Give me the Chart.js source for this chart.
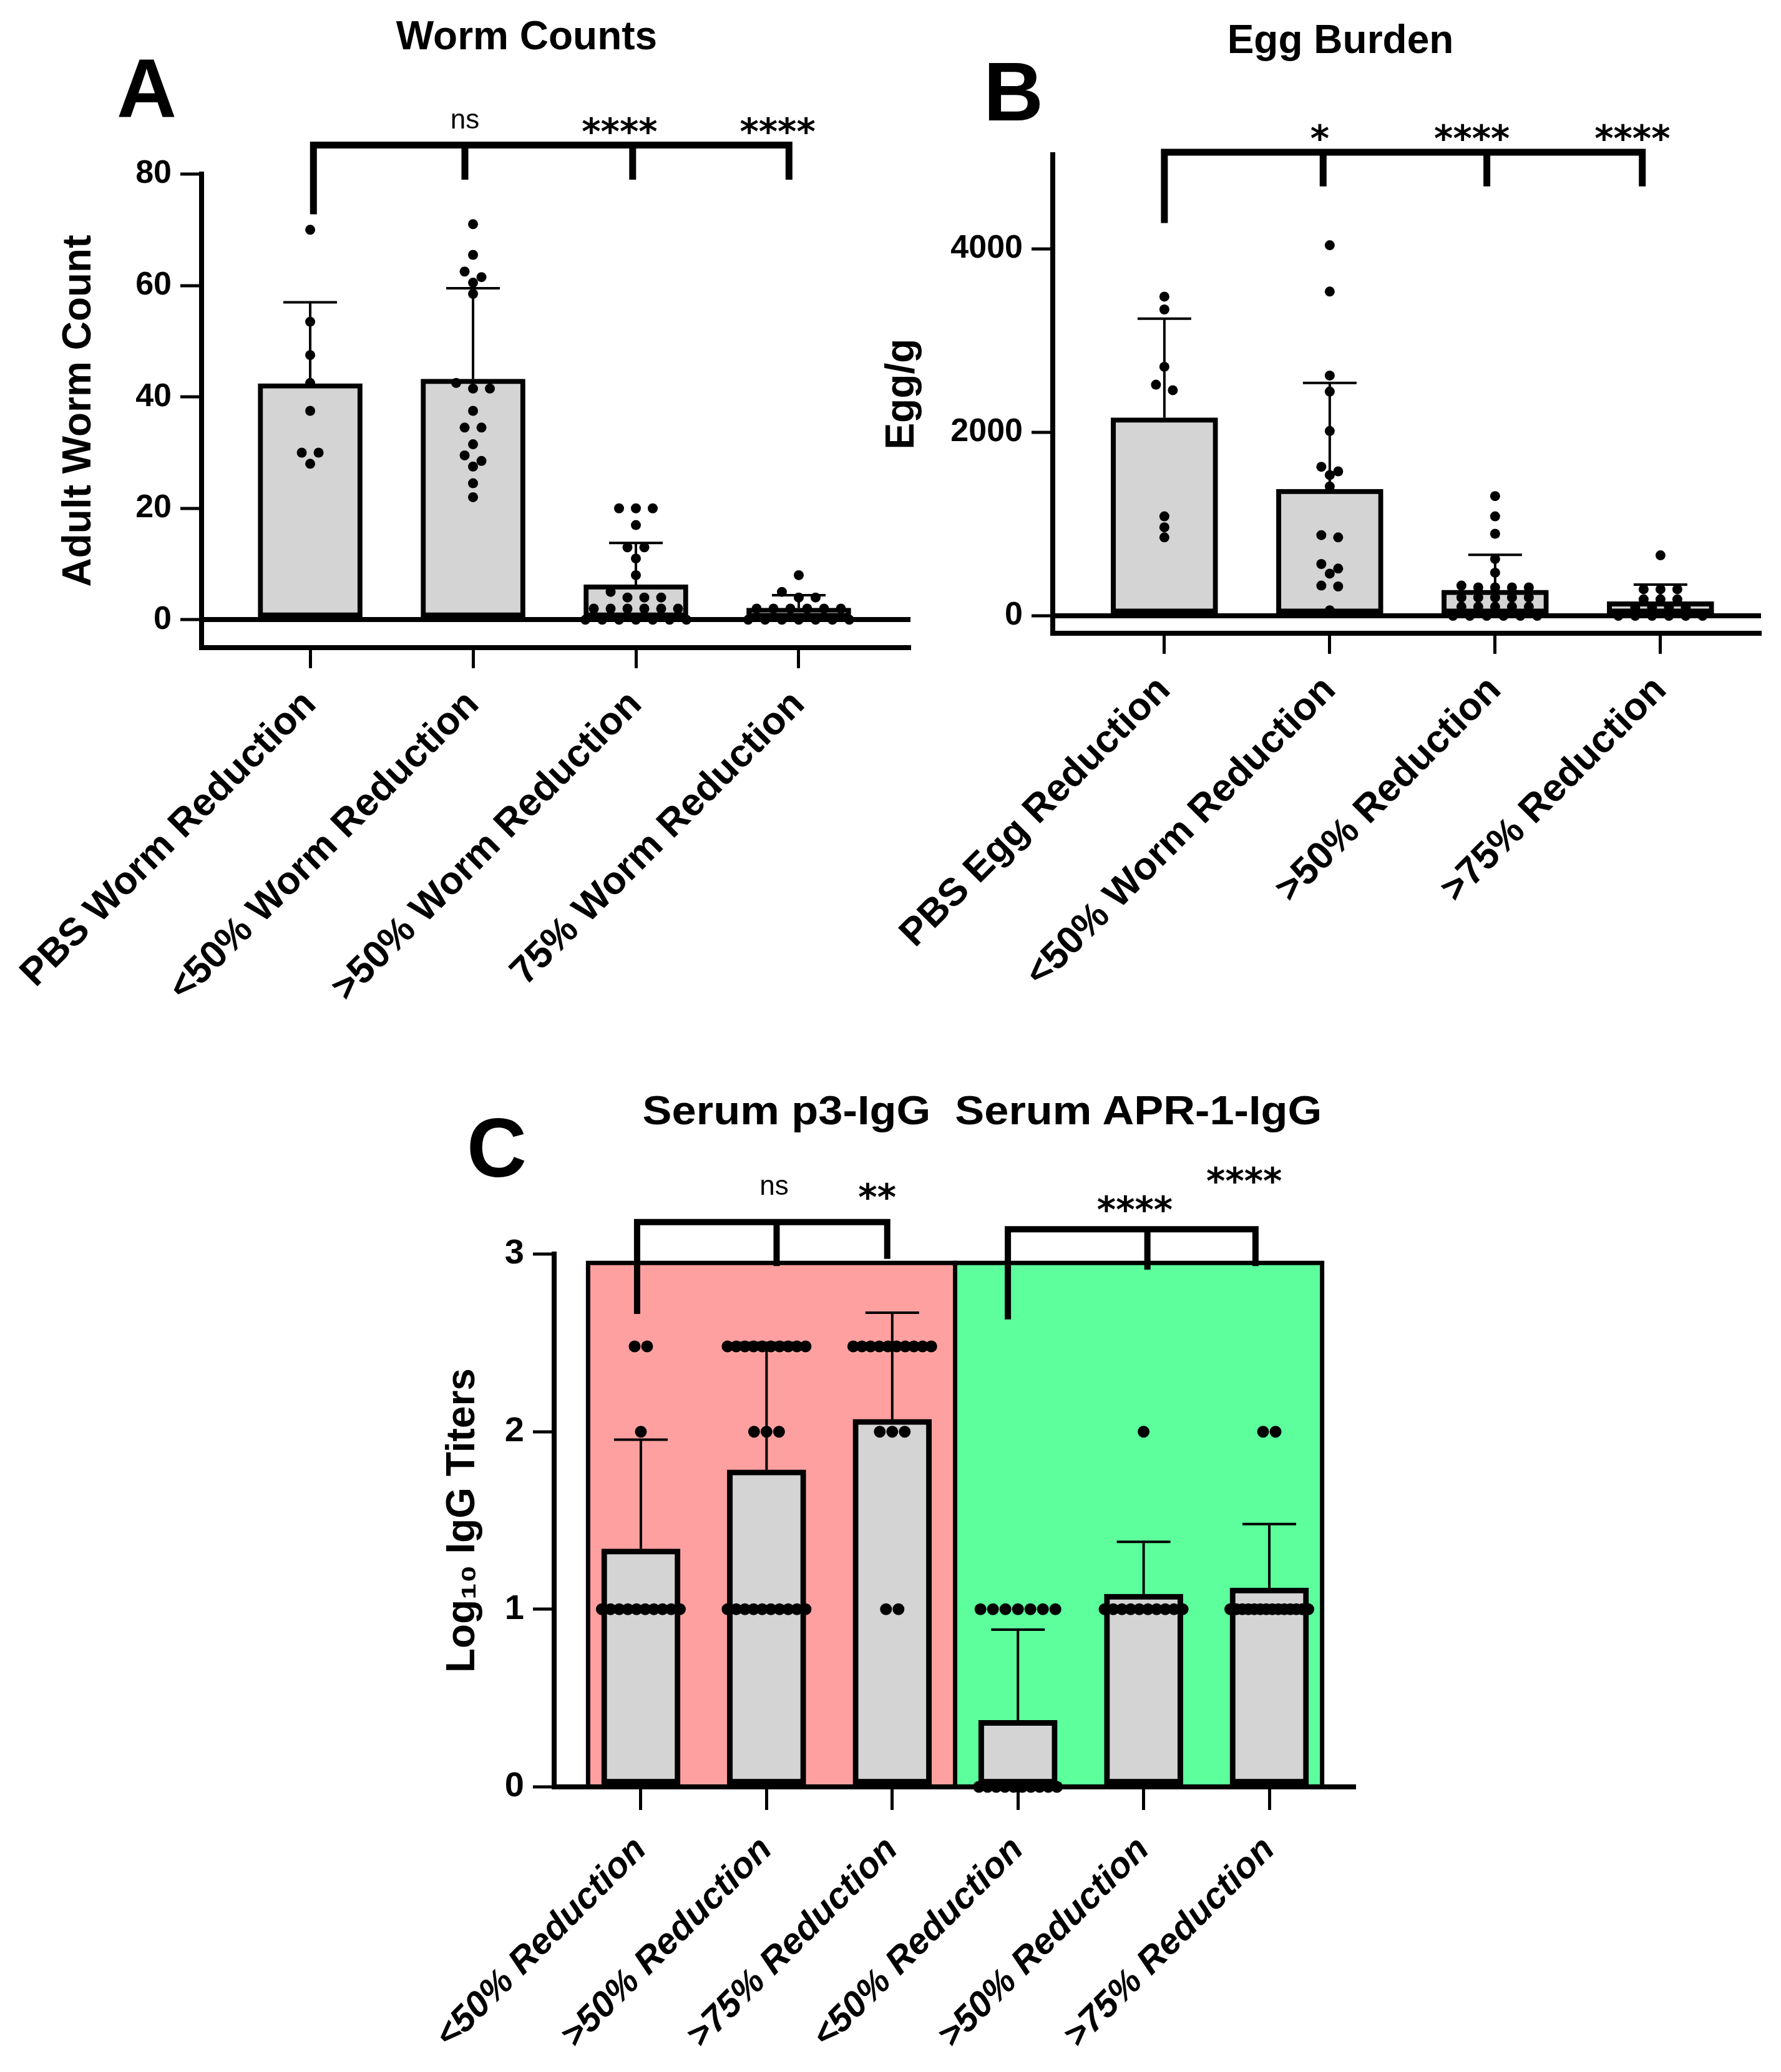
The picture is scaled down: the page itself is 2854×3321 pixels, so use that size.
<!DOCTYPE html>
<html>
<head>
<meta charset="utf-8">
<script src="https://cdn.jsdelivr.net/npm/chart.js@4.4.1/dist/chart.umd.min.js"></script>
<style>
  body { margin: 0; background: #fff; width: 2854px; height: 3321px; position: relative; overflow: hidden;
         font-family: "Liberation Sans", Arial, sans-serif; }
  canvas { position: absolute; }
  .t { position: absolute; transform: translate(-50%, -50%); font-weight: bold; white-space: nowrap;
       line-height: 1; color: #000; }
</style>
</head>
<body>
<canvas id="chartA" width="1480" height="1700" style="left:0;top:0;width:1480px;height:1700px"></canvas>
<canvas id="chartB" width="1474" height="1700" style="left:1380px;top:0;width:1474px;height:1700px"></canvas>
<canvas id="chartC" width="1650" height="1621" style="left:600px;top:1700px;width:1650px;height:1621px"></canvas>

<div class="t" style="left:235px;top:142px;font-size:133px">A</div>
<div class="t" style="left:844px;top:57px;font-size:64px">Worm Counts</div>
<div class="t" style="left:1624px;top:147px;font-size:133px">B</div>
<div class="t" style="left:2148px;top:63px;font-size:64px">Egg Burden</div>
<div class="t" style="left:796px;top:1840px;font-size:133px">C</div>
<div class="t" style="left:1574px;top:1780px;font-size:64px;transform:translate(-50%,-50%) scaleX(1.1)">Serum p3-IgG&nbsp; Serum APR-1-IgG</div>

<script>
// Panel A - worm counts
const catsA = ['PBS Worm Reduction', '<50% Worm Reduction', '>50% Worm Reduction', '75% Worm Reduction'];
const meanA = [42.4, 43.2, 6.3, 2.1];
const sdA = [14.6, 16.3, 7.5, 2.3];
const dotsA = [
  [70, 53.5, 47.5, 42.5, 37.5, 30, 30, 28],
  [71, 65.5, 62.5, 61.5, 60.5, 58.5, 42.5, 41.5, 41.5, 37.5, 34.5, 34.5, 31.5, 29.5, 28.5, 27.5, 24.5, 22],
  [20, 20, 20, 17, 13, 13, 11, 8, 5, 4, 4, 4, 2, 2, 2, 2, 2, 2, 0, 0, 0, 0, 0, 0, 0],
  [8, 5, 4, 4, 2, 2, 2, 2, 2, 2, 0, 0, 0, 0, 0, 0, 0]
];
const yTicksA = [0, 20, 40, 60, 80];

// Panel B - egg burden
const catsB = ['PBS Egg Reduction', '<50% Worm Reduction', '>50% Reduction', '>75% Reduction'];
const meanB = [2160, 1380, 280, 155];
const sdB = [1080, 1160, 385, 185];
const dotsB = [
  [3480, 3340, 2715, 2520, 2460, 1085, 965, 855],
  [4040, 3535, 2620, 2445, 2015, 1625, 1575, 1535, 1410, 880, 855, 565, 515, 460, 330, 320, 60],
  [1305, 1085, 895, 620, 470, 330, 310, 310, 310, 310, 200, 200, 200, 200, 200, 100, 100, 100, 100, 100, 0, 0, 0, 0, 0, 0],
  [660, 290, 290, 290, 180, 180, 180, 90, 90, 90, 90, 0, 0, 0, 0, 0, 0]
];
const yTicksB = [0, 2000, 4000];

// Panel C - serum IgG titers (p3 groups then APR-1 groups)
const catsC = ['<50% Reduction', '>50% Reduction', '>75% Reduction', '<50% Reduction', '>50% Reduction', '>75% Reduction'];
const meanC = [1.34, 1.785, 2.07, 0.375, 1.085, 1.12];
const sdC = [0.615, 0.715, 0.6, 0.51, 0.295, 0.36];
const rep = (v, n) => Array(n).fill(v);
const dotsC = [
  [...rep(2.48, 2), 2, ...rep(1, 10)],
  [...rep(2.48, 10), ...rep(2, 3), ...rep(1, 10)],
  [...rep(2.48, 10), ...rep(2, 3), ...rep(1, 2)],
  [...rep(1, 7), ...rep(0, 10)],
  [2, ...rep(1, 10)],
  [2, 2, ...rep(1, 14)]
];
const yTicksC = [0, 1, 2, 3];

const FONT = "'Liberation Sans', Arial, sans-serif";

// spread dots of similar value side by side, centred on the group
function swarm(chart, groups, spacing, maxSpread, bin) {
  const xs = chart.scales.x, ys = chart.scales.y;
  const pxX = xs.getPixelForValue(1) - xs.getPixelForValue(0);
  const pxY = Math.abs(ys.getPixelForValue(1) - ys.getPixelForValue(0));
  const pts = [];
  groups.forEach((vals, g) => {
    const s = vals.slice().sort((a, b) => b - a);
    let i = 0;
    while (i < s.length) {
      let j = i;
      while (j < s.length && (s[i] - s[j]) * pxY < bin) j++;
      const n = j - i;
      const step = n > 1 ? Math.min(spacing, maxSpread / (n - 1)) : 0;
      for (let k = 0; k < n; k++) {
        pts.push({ x: g + (k - (n - 1) / 2) * step / pxX, y: s[i + k] });
      }
      i = j;
    }
  });
  return pts;
}

function errorBars(means, sds, cap, width) {
  return {
    id: 'errorBars',
    afterDatasetDraw(chart, args) {
      if (args.meta.type !== 'bar') return;
      const ctx = chart.ctx, xs = chart.scales.x, ys = chart.scales.y;
      ctx.save();
      ctx.strokeStyle = '#000';
      ctx.lineWidth = width;
      means.forEach((m, i) => {
        const x = xs.getPixelForValue(i);
        const y0 = ys.getPixelForValue(m), y1 = ys.getPixelForValue(m + sds[i]);
        ctx.beginPath();
        ctx.moveTo(x, y0); ctx.lineTo(x, y1);
        ctx.moveTo(x - cap / 2, y1); ctx.lineTo(x + cap / 2, y1);
        ctx.stroke();
      });
      ctx.restore();
    }
  };
}

// significance brackets and stars
function brackets(list, labels, lw) {
  return {
    id: 'brackets',
    afterDraw(chart) {
      const ctx = chart.ctx, xs = chart.scales.x, ys = chart.scales.y;
      ctx.save();
      ctx.strokeStyle = '#000';
      ctx.lineWidth = lw;
      ctx.lineCap = 'square';
      list.forEach(b => {
        const y = ys.getPixelForValue(b.y);
        const xa = xs.getPixelForValue(b.drops[0][0]), xb = xs.getPixelForValue(b.drops[b.drops.length - 1][0]);
        ctx.beginPath();
        ctx.moveTo(xa, y); ctx.lineTo(xb, y);
        b.drops.forEach(d => {
          const x = xs.getPixelForValue(d[0]);
          ctx.moveTo(x, y); ctx.lineTo(x, ys.getPixelForValue(d[1]));
        });
        ctx.stroke();
      });
      ctx.fillStyle = '#000';
      ctx.textAlign = 'center';
      ctx.textBaseline = 'alphabetic';
      labels.forEach(l => {
        const x = xs.getPixelForValue(l.x), y = ys.getPixelForValue(l.y);
        if (l.t === 'ns') {
          ctx.font = '44px ' + FONT;
          ctx.fillText(l.t, x, y + 12);
        } else {
          ctx.font = 'bold 58px "DejaVu Sans", ' + FONT;
          ctx.fillText(l.t, x, y + 34);
        }
      });
      ctx.restore();
    }
  };
}

const shading = {
  id: 'shading',
  beforeDraw(chart) {
    const ctx = chart.ctx, xs = chart.scales.x, ys = chart.scales.y;
    const top = ys.getPixelForValue(2.95), bottom = ys.getPixelForValue(0);
    const edges = [-0.42, 2.5, 5.42].map(v => xs.getPixelForValue(v));
    ctx.save();
    ctx.fillStyle = '#ffa0a0';
    ctx.fillRect(edges[0], top, edges[1] - edges[0], bottom - top);
    ctx.fillStyle = '#5cff9c';
    ctx.fillRect(edges[1], top, edges[2] - edges[1], bottom - top);
    ctx.strokeStyle = '#000';
    ctx.lineWidth = 7;
    ctx.strokeRect(edges[0], top, edges[1] - edges[0], bottom - top);
    ctx.strokeRect(edges[1], top, edges[2] - edges[1], bottom - top);
    ctx.restore();
  }
};

function makeChart(id, cfg) {
  const canvas = document.getElementById(id);
  const area = cfg.area; // chart area inside the canvas
  const chart = new Chart(canvas, {
    type: 'bar',
    data: {
      datasets: [
        {
          type: 'bar',
          data: cfg.means.map((m, i) => ({ x: i, y: m })),
          backgroundColor: '#d4d4d4',
          borderColor: '#000',
          borderWidth: cfg.barBorder,
          borderSkipped: false,
          barThickness: cfg.barWidth,
          order: 2
        },
        {
          type: 'scatter',
          data: [],
          pointRadius: cfg.dotR,
          pointBackgroundColor: '#000',
          pointBorderWidth: 0,
          clip: false,
          order: 1
        }
      ]
    },
    options: {
      responsive: false,
      devicePixelRatio: 1,
      animation: false,
      layout: { padding: { top: area.top, right: canvas.width - area.right, left: 0, bottom: 0 } },
      plugins: { legend: { display: false }, tooltip: { enabled: false } },
      scales: {
        x: {
          type: 'linear',
          offset: false,
          min: cfg.xMin, max: cfg.xMax,
          afterBuildTicks: s => { s.ticks = cfg.cats.map((_, i) => ({ value: i })); },
          afterFit: s => { s.height = canvas.height - area.bottom; s.paddingLeft = 0; s.paddingRight = 0; },
          ticks: {
            autoSkip: false, minRotation: 45, maxRotation: 45, padding: cfg.labelPad,
            color: '#000',
            font: { family: FONT, weight: 'bold', size: cfg.labelSize, style: cfg.labelStyle || 'normal' },
            callback: v => cfg.cats[v]
          },
          grid: { offset: false, drawOnChartArea: false, drawTicks: true, tickLength: cfg.xTickLen, tickWidth: 5, tickColor: '#000' },
          border: { display: true, color: '#000', width: 8 }
        },
        y: {
          min: cfg.yMin, max: cfg.yMax,
          afterBuildTicks: s => { s.ticks = cfg.yTicks.map(v => ({ value: v })); },
          afterFit: s => { s.width = area.left; s.paddingTop = 0; s.paddingBottom = 0; },
          ticks: { color: '#000', padding: 14, font: { family: FONT, weight: 'bold', size: cfg.tickSize },
                   callback: v => String(v) },
          grid: {
            drawOnChartArea: cfg.zeroLine,
            color: c => (c.tick && c.tick.value === 0) ? '#000' : 'rgba(0,0,0,0)',
            lineWidth: 8,
            tickLength: 34, tickWidth: 5, tickColor: '#000'
          },
          border: { display: true, color: '#000', width: 8 },
          title: {
            display: true, text: cfg.yTitle, color: '#000',
            font: { family: FONT, weight: 'bold', size: 64 },
            padding: { top: cfg.titlePad, bottom: 0 }
          }
        }
      }
    },
    plugins: cfg.plugins
  });
  chart.data.datasets[1].data = swarm(chart, cfg.dots, cfg.spacing, cfg.maxSpread, cfg.bin);
  chart.update('none');
  return chart;
}

makeChart('chartA', {
  area: { left: 323, top: 279, right: 1459, bottom: 1038 },
  cats: catsA, means: meanA, dots: dotsA, yTicks: yTicksA,
  xMin: -0.667, xMax: 3.686, yMin: -5, yMax: 80,
  barWidth: 167, barBorder: 8, dotR: 8, spacing: 27, maxSpread: 170, bin: 15,
  labelSize: 62, labelPad: 22, xTickLen: 33, tickSize: 52,
  yTitle: 'Adult Worm Count', titlePad: 89, zeroLine: true,
  plugins: [
    errorBars(meanA, sdA, 86, 4),
    brackets([{ y: 85.2, drops: [[0.02, 73.4], [0.95, 79.6], [1.98, 79.6], [2.94, 79.6]] }],
      [{ t: 'ns', x: 0.95, y: 89.5 }, { t: '****', x: 1.9, y: 89.2 }, { t: '****', x: 2.87, y: 89.2 }], 11)
  ]
});

makeChart('chartB', {
  area: { left: 307, top: 248, right: 1442, bottom: 1015 },
  cats: catsB, means: meanB, dots: dotsB, yTicks: yTicksB,
  xMin: -0.675, xMax: 3.608, yMin: -190, yMax: 5027,
  barWidth: 171, barBorder: 8, dotR: 8, spacing: 27, maxSpread: 170, bin: 13,
  labelSize: 62, labelPad: 22, xTickLen: 33, tickSize: 52,
  yTitle: 'Egg/g', titlePad: 28, zeroLine: true,
  plugins: [
    errorBars(meanB, sdB, 86, 4),
    brackets([{ y: 5054, drops: [[0, 4320], [0.96, 4720], [1.95, 4720], [2.89, 4720]] }],
      [{ t: '*', x: 0.94, y: 5300 }, { t: '****', x: 1.86, y: 5300 }, { t: '****', x: 2.83, y: 5300 }], 11)
  ]
});

makeChart('chartC', {
  area: { left: 288, top: 310, right: 1572, bottom: 1164 },
  cats: catsC, means: meanC, dots: dotsC, yTicks: yTicksC,
  xMin: -0.69, xMax: 5.685, yMin: 0, yMax: 3,
  barWidth: 126, barBorder: 9, dotR: 9.5, spacing: 20, maxSpread: 125, bin: 15,
  labelSize: 58, labelStyle: 'italic', labelPad: 30, xTickLen: 37, tickSize: 56,
  yTitle: 'Log\u2081\u2080 IgG Titers', titlePad: 104, zeroLine: false,
  plugins: [
    shading,
    errorBars(meanC, sdC, 86, 4),
    brackets([
      { y: 3.18, drops: [[-0.03, 2.68], [1.08, 2.95], [1.96, 2.99]] },
      { y: 3.14, drops: [[2.92, 2.65], [4.03, 2.93], [4.89, 2.95]] }
    ], [
      { t: 'ns', x: 1.06, y: 3.375 }, { t: '**', x: 1.88, y: 3.37 },
      { t: '****', x: 3.93, y: 3.3 }, { t: '****', x: 4.8, y: 3.46 }
    ], 10)
  ]
});
</script>
</body>
</html>
